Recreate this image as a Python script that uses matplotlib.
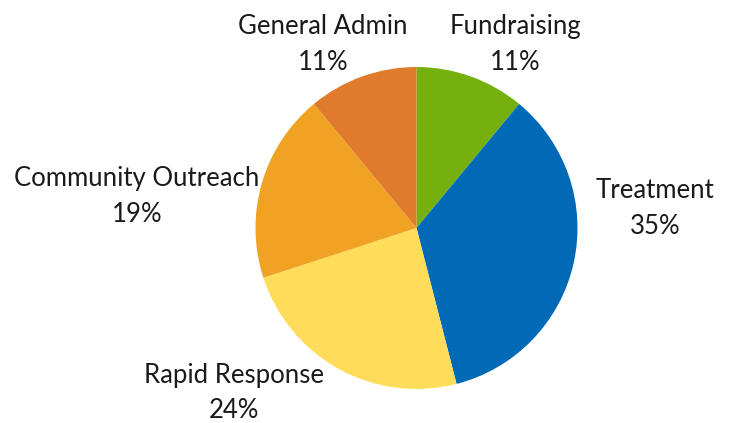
import matplotlib
matplotlib.use("Agg")
import matplotlib.pyplot as plt

categories = ["Fundraising", "Treatment", "Rapid Response", "Community Outreach", "General Admin"]
values = [11, 35, 24, 19, 11]
colors = ["#76B00F", "#006AB6", "#FFDD5A", "#F0A223", "#E07A2D"]

# label anchor positions (pixels from top-left), layout only
label_pos = {
    "Fundraising": (515, 44),
    "Treatment": (655, 208),
    "Rapid Response": (234, 393),
    "Community Outreach": (137, 196),
    "General Admin": (323, 44),
}

W, H = 731, 423
fig = plt.figure(figsize=(W / 100, H / 100), dpi=100)
ax = fig.add_axes([0, 0, 1, 1])

cx, cy, r = 416.5, H - 228, 161
ax.pie(values, colors=colors, startangle=90, counterclock=False,
       center=(cx, cy), radius=r, frame=True,
       wedgeprops=dict(linewidth=0))
ax.set_xlim(0, W)
ax.set_ylim(0, H)
ax.set_aspect("equal")
ax.axis("off")

for cat, v in zip(categories, values):
    x, y = label_pos[cat]
    ax.text(x, H - y, f"{cat}\n{v}%", ha="center", va="center",
            fontsize=18.5, family="Lato", color="#1a1a1a", linespacing=1.55)

fig.savefig("out.png", dpi=100)
